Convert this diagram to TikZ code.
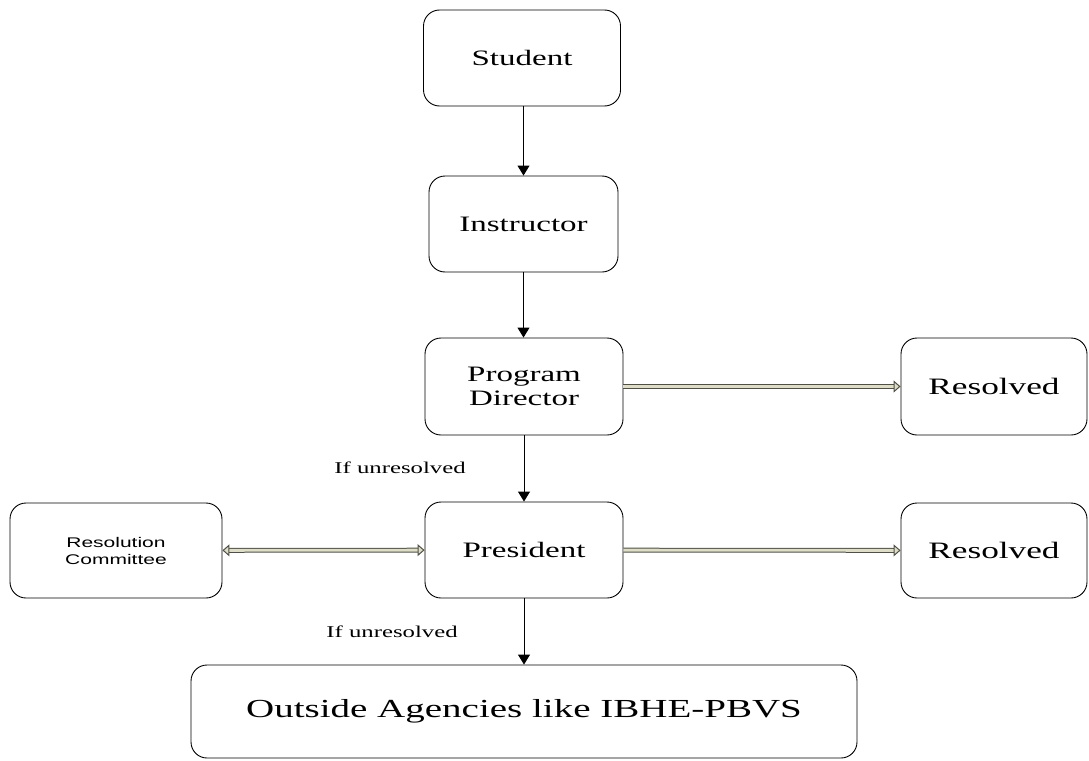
\documentclass[tikz,border=0pt]{standalone}
\usepackage{fontspec}
\usetikzlibrary{arrows.meta}
\newfontfamily\boxfont[FakeStretch=1.5]{Liberation Serif}
\newfontfamily\smallfont[FakeStretch=1.5]{Liberation Sans}
\definecolor{shaftfill}{RGB}{222,222,200}
\definecolor{shaftline}{RGB}{80,80,70}
\begin{document}
\begin{tikzpicture}[x=1pt,y=-1pt,
	box/.style={draw,rounded corners=16pt,line width=0.9pt,align=center,inner sep=0,font=\boxfont\fontsize{22}{24}\selectfont},
	down/.style={line width=0.9pt,-{Triangle[length=10pt,width=12pt]}},
	hollow/.style={draw=shaftline,line width=1pt,double=shaftfill,double distance=2.8pt,-{Triangle[open,length=7pt,width=12pt,fill=shaftfill]}},
	note/.style={inner sep=0,font=\boxfont\fontsize{16.5}{18}\selectfont}]
	\useasboundingbox (0,0) rectangle (1089,760);
	\node[box,minimum width=197pt,minimum height=96pt] (student) at (522,58) {Student};
	\node[box,minimum width=189pt,minimum height=96pt] (instructor) at (523.5,224) {Instructor};
	\node[box,minimum width=198pt,minimum height=97pt] (director) at (524,386.5) {Program\\Director};
	\node[box,minimum width=186pt,minimum height=97pt,font=\boxfont\fontsize{23.5}{26}\selectfont] (resolved1) at (994,386.5) {Resolved};
	\node[box,minimum width=198pt,minimum height=96pt] (president) at (524,550) {President};
	\node[box,minimum width=212pt,minimum height=95pt,font=\smallfont\fontsize{14}{17}\selectfont] (committee) at (116,550.5) {Resolution\\Committee};
	\node[box,minimum width=186pt,minimum height=95pt,font=\boxfont\fontsize{23.5}{26}\selectfont] (resolved2) at (994,550.5) {Resolved};
	\node[box,minimum width=666pt,minimum height=93pt,font=\boxfont\fontsize{26}{28}\selectfont] (agencies) at (524,711.5) {Outside Agencies like IBHE-PBVS};
	\node[note] (unresolved1) at (400,468) {If unresolved};
	\node[note] (unresolved2) at (392,632) {If unresolved};
	\draw[down] (student.south -| instructor) -- (instructor);
	\draw[down] (instructor) -- (director.north -| instructor);
	\draw[down] (director) -- (president);
	\draw[down] (president) -- (agencies);
	\draw[hollow] (director) -- (resolved1);
	\draw[hollow] (president) -- (resolved2);
	\draw[hollow,{Triangle[open,length=7pt,width=12pt,fill=shaftfill]}-{Triangle[open,length=7pt,width=12pt,fill=shaftfill]}] (committee) -- (president);
\end{tikzpicture}
\end{document}
